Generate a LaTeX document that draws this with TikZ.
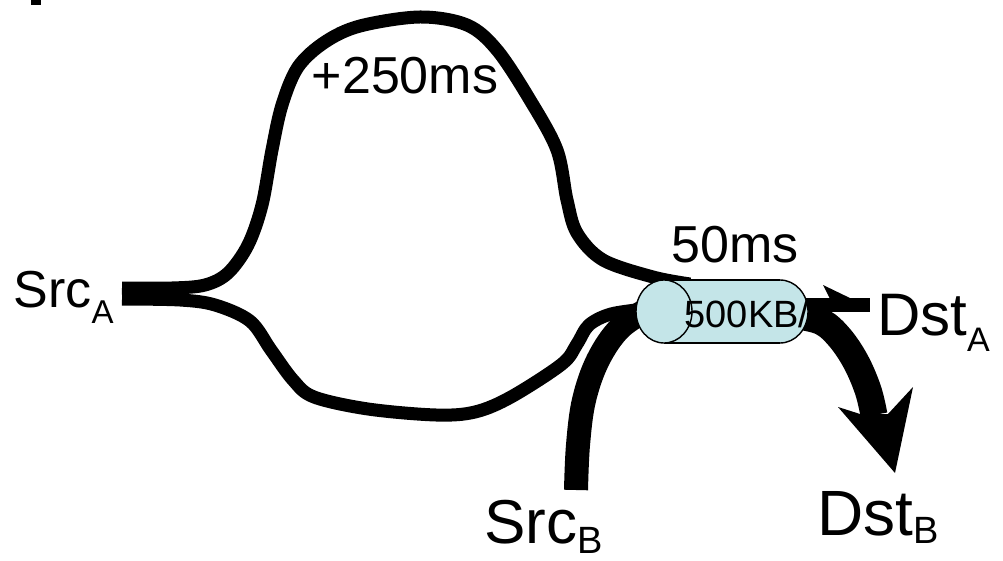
\documentclass[tikz,border=0pt]{standalone}
\usepackage{fontspec}
\setmainfont{Liberation Sans}
\definecolor{cylfill}{RGB}{196,229,232}
\tikzset{
  pipe/.style={line width=13pt, line cap=butt, line join=round},
  fatpipe/.style={line width=24pt, line cap=butt, line join=round},
  cylline/.style={draw=black, line width=1.4pt},
  lbl/.style={inner sep=0pt, outer sep=0pt, text=black},
}
\begin{document}
\begin{tikzpicture}[x=1pt, y=-1pt]
\useasboundingbox (0,0) rectangle (1003,561);
\fill[white] (0,0) rectangle (1003,561);
% small mark top-left
\fill[black] (31,0) rectangle (41,5);
% upper (delayed) path
\draw[pipe] plot[smooth, tension=0.55] coordinates {(122,288) (172,288) (205,285) (228,273) (248,245) (262,205) (272,150) (282,105) (298,67) (325,42) (360,26) (420,17) (467,25) (497,50) (530,100) (557,150) (567,200) (577,233) (603,260) (653,277) (690,284)};
% lower path
\draw[pipe] plot[smooth, tension=0.55] coordinates {(122,299) (180,300) (215,305) (250,321) (271,350) (293,380) (314,397) (368,409) (436,415) (475,412) (511,397) (562,364) (577,344) (589,325) (611,314) (645,309)};
% SrcB thick path
\draw[fatpipe] plot[smooth, tension=0.6] coordinates {(576,490) (578,445) (584,400) (598,360) (620,328) (650,308)};
% DstA bar and spike
\draw[line width=14pt] (798,305) -- (870,305);
\fill[black] (823,285) -- (852,299) -- (831,301) -- cycle;
% DstB arrow
\draw[line width=27pt, line cap=butt] plot[smooth, tension=0.6] coordinates {(798,316) (822,322) (840,338) (856,362) (868,390) (874,415)};
\fill[black] (838,407) -- (860,414) -- (888,414) -- (913,387) -- (895,473) -- cycle;
% link (cylinder)
\fill[cylfill] (664,280) rectangle (780,343);
\fill[cylfill] (780,311.5) ellipse [x radius=28, y radius=31.5];
\draw[cylline] (664,280) -- (780,280) (664,343) -- (780,343);
\begin{scope}
\clip (780,270) rectangle (820,352);
\draw[cylline] (780,311.5) ellipse [x radius=28, y radius=31.5];
\end{scope}
\draw[cylline, fill=cylfill] (664,311.5) ellipse [x radius=28, y radius=31.5];
% labels
\node[lbl, anchor=base] (delay) at (405,94) {\fontsize{52}{52}\selectfont +250ms};
\node[lbl, anchor=base] (lat) at (735,262) {\fontsize{52}{52}\selectfont 50ms};
\node[lbl, anchor=base] (bw) at (747,327) {\fontsize{38}{38}\selectfont 500KB/};
\node[lbl, anchor=base west] (srcA) at (13.6,307) {\fontsize{52}{52}\selectfont Src\raisebox{-16pt}{\fontsize{33}{33}\selectfont A}};
\node[lbl, anchor=base west] (dstA) at (877,335) {\fontsize{60}{60}\selectfont Dst\raisebox{-16pt}{\fontsize{34}{34}\selectfont A}};
\node[lbl, anchor=base west] (srcB) at (484,543) {\fontsize{62}{62}\selectfont Src\raisebox{-10pt}{\fontsize{38}{38}\selectfont B}};
\node[lbl, anchor=base west] (dstB) at (817,535) {\fontsize{64}{64}\selectfont Dst\raisebox{-8pt}{\fontsize{38}{38}\selectfont B}};
\end{tikzpicture}
\end{document}
